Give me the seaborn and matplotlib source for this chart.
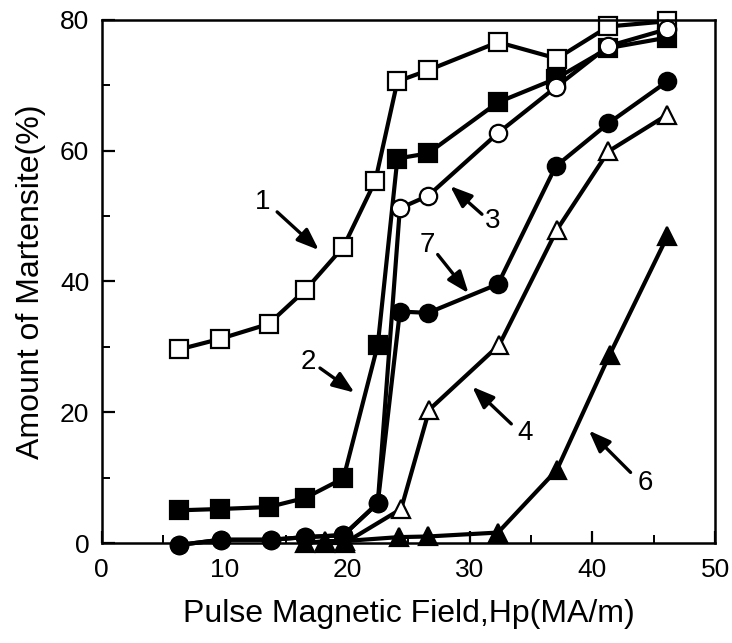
import matplotlib
matplotlib.use("Agg")
import matplotlib.pyplot as plt
import seaborn as sns
import pandas as pd

# ---- data ----
x_1 = [6.3, 9.6, 13.6, 16.6, 19.7, 22.3, 24.1, 26.6, 32.3, 37.1, 41.3, 46.1]
y_1 = [29.6, 31.2, 33.5, 38.7, 45.3, 55.4, 70.6, 72.3, 76.6, 74.1, 79.0, 79.8]

x_2 = [6.3, 9.6, 13.6, 16.6, 19.7, 22.5, 24.1, 26.6, 32.3, 37.0, 41.3, 46.1]
y_2 = [5.0, 5.2, 5.5, 6.9, 9.9, 30.3, 58.8, 59.6, 67.4, 71.0, 75.7, 77.3]

x_3 = [6.3, 9.7, 13.8, 16.6, 19.7, 22.5, 24.3, 26.6, 32.3, 37.0, 41.3, 46.1]
y_3 = [-0.3, 0.5, 0.5, 0.9, 1.2, 6.1, 51.2, 53.1, 62.7, 69.7, 76.0, 78.6]

x_7 = [6.3, 9.7, 13.8, 16.6, 19.7, 22.5, 24.3, 26.6, 32.3, 37.0, 41.3, 46.1]
y_7 = [-0.3, 0.5, 0.5, 0.9, 1.2, 6.1, 35.4, 35.2, 39.6, 57.6, 64.2, 70.6]

x_4 = [18.2, 19.8, 24.4, 26.7, 32.4, 37.1, 41.3, 46.1]
y_4 = [0.0, 0.0, 5.2, 20.4, 30.3, 47.9, 59.9, 65.5]

x_6 = [16.6, 18.2, 19.8, 24.2, 26.6, 32.3, 37.1, 41.4, 46.1]
y_6 = [0.0, 0.3, 0.3, 0.9, 1.0, 1.6, 11.2, 28.8, 46.9]

x_ticks = [0, 10, 20, 30, 40, 50]
y_ticks = [0, 20, 40, 60, 80]

# curve label: (text, text position, arrow head position)
labels = ["1", "2", "3", "7", "4", "6"]
label_xy = [(13.1, 52.1), (16.8, 27.7), (31.9, 49.2), (26.5, 45.6), (34.5, 16.8), (44.3, 9.2)]
arrow_to = [(17.7, 44.8), (20.6, 23.0), (28.4, 54.6), (29.9, 38.2), (30.2, 23.9), (39.7, 17.2)]

sns.set_theme(style="ticks")
plt.rcParams["font.family"] = ["Liberation Sans", "DejaVu Sans"]

fig = plt.figure(figsize=(7.32, 6.43), dpi=100)
ax = fig.add_axes([0.139, 0.1555, 0.838, 0.8135])

series = [
    (x_1, y_1, "s", "white", 13),
    (x_2, y_2, "s", "black", 13),
    (x_3, y_3, "o", "white", 12.5),
    (x_7, y_7, "o", "black", 12.5),
    (x_4, y_4, "^", "white", 12.5),
    (x_6, y_6, "^", "black", 12.5),
]
for xs, ys, mk, fc, ms in series:
    df = pd.DataFrame({"x": xs, "y": ys})
    sns.lineplot(data=df, x="x", y="y", ax=ax, color="black", lw=3.0,
                 marker=mk, markersize=ms, markerfacecolor=fc,
                 markeredgecolor="black", markeredgewidth=1.6,
                 clip_on=False, estimator=None, sort=False)

for t, (tx, ty), (hx, hy) in zip(labels, label_xy, arrow_to):
    ax.text(tx, ty, t, fontsize=20, ha="center", va="center", color="black")
    dx, dy = hx - tx, hy - ty
    ax.annotate("", xy=(hx, hy), xytext=(tx + 0.26 * dx, ty + 0.2 * dy),
                arrowprops=dict(arrowstyle="-|>,head_length=1.1,head_width=0.42",
                                color="black", lw=2.4, shrinkA=0, shrinkB=0))

ax.set_xlim(0, 50)
ax.set_ylim(0, 80)
ax.set_xticks(x_ticks)
ax.set_yticks(y_ticks)
ax.set_xticks([5, 15, 25, 35, 45], minor=True)
ax.set_yticks([10, 30, 50, 70], minor=True)
ax.tick_params(which="major", direction="in", length=9, width=1.6,
               labelsize=19, pad=9, color="black", labelcolor="black")
ax.tick_params(which="minor", direction="in", length=6, width=1.4, color="black")
ax.tick_params(axis="x", which="major", pad=11)
for s in ax.spines.values():
    s.set_visible(True)
    s.set_linewidth(1.8)
    s.set_color("black")
ax.set_xlabel("Pulse Magnetic Field,Hp(MA/m)", fontsize=23, labelpad=12, color="black")
ax.set_ylabel("Amount of Martensite(%)", fontsize=23, labelpad=10, color="black")
ax.set_facecolor("white")
fig.patch.set_facecolor("white")

fig.savefig("out.png", dpi=100)
